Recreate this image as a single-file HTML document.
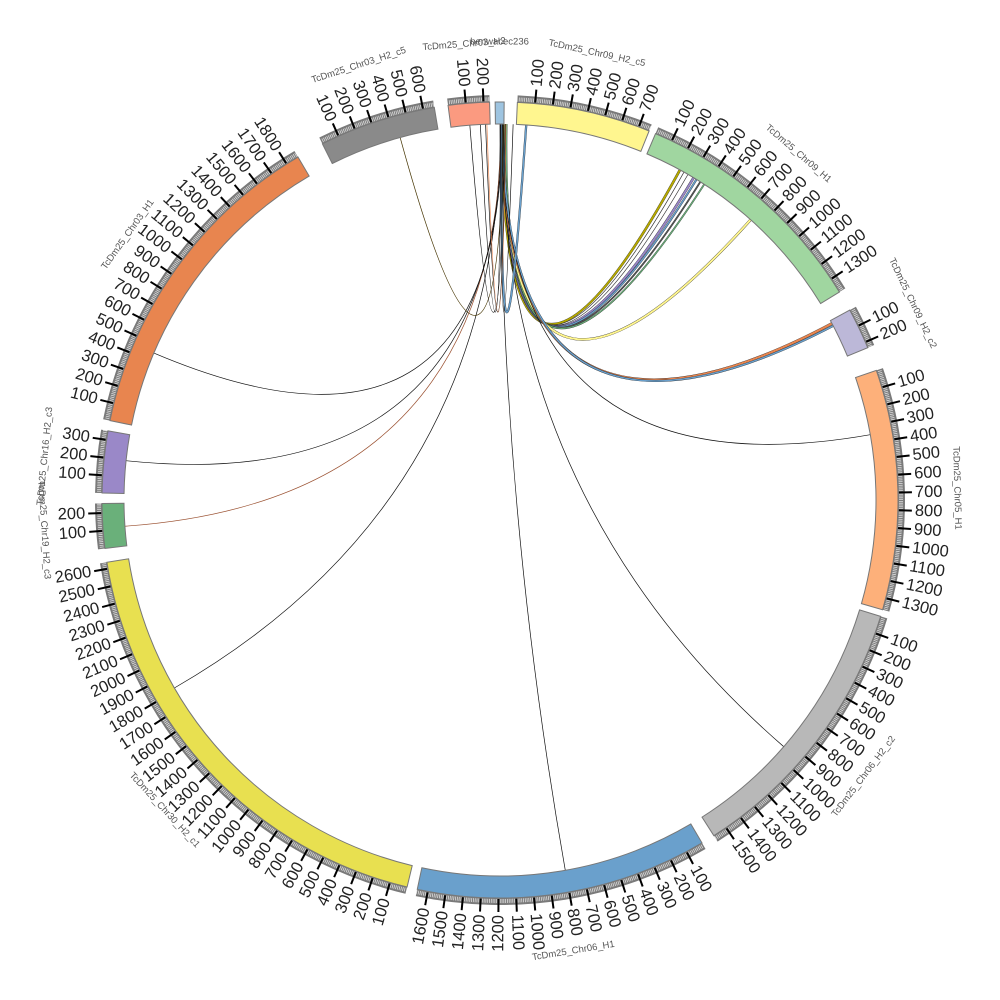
<!DOCTYPE html>
<html><head><meta charset="utf-8"><style>
html,body{margin:0;padding:0;background:#fff;}
svg{display:block;}
text{font-family:"Liberation Sans",sans-serif;}
</style></head><body>
<svg id="s" width="1000" height="1000" viewBox="0 0 1000 1000" xmlns="http://www.w3.org/2000/svg">
<rect width="1000" height="1000" fill="#fff"/>
<g id="links"></g><g id="ideo"></g><g id="ticks"></g><g id="labs"></g>
</svg>
<script>
var NS="http://www.w3.org/2000/svg",CX=500,CY=500,RO=398,RI=376,K=0.0256;
function P(r,t){var a=t*Math.PI/180;return [CX+r*Math.sin(a),CY-r*Math.cos(a)];}
function el(p,tag,at,txt){var e=document.createElementNS(NS,tag);for(var k in at)e.setAttribute(k,at[k]);if(txt!=null)e.textContent=txt;document.getElementById(p).appendChild(e);return e;}
function band(r1,r2,s,e){var a=P(r2,s),b=P(r2,e),c=P(r1,e),d=P(r1,s),lg=(e-s)>180?1:0;
return "M"+a+"A"+r2+","+r2+" 0 "+lg+" 1 "+b+"L"+c+"A"+r1+","+r1+" 0 "+lg+" 0 "+d+"Z";}
var segs=[
[2.5,22,"#fff68f","TcDm25_Chr09_H2_c5"],
[23,58.5,"#a0d6a0","TcDm25_Chr09_H1"],
[61.5,67.5,"#bcb8d8","TcDm25_Chr09_H2_c2"],
[71,106,"#fdb07a","TcDm25_Chr05_H1"],
[107,147.5,"#b8b8b8","TcDm25_Chr06_H2_c2"],
[149.5,192,"#6aa0cc","TcDm25_Chr06_H1"],
[193.5,261,"#e8e050","TcDm25_Chr30_H2_c1"],
[263,269.5,"#6ab07a","TcDm25_Chr19_H2_c3"],
[271,280,"#9a88c8","TcDm25_Chr16_H2_c3"],
[281.5,329.5,"#e8854f","TcDm25_Chr03_H1"],
[333.5,350.5,"#8a8a8a","TcDm25_Chr03_H2_c5"],
[352.5,358.5,"#fb9a80","TcDm25_Chr03_H2"],
[359.3,360.6,"#9ec4e0","benwacec236"]];
var O=376;
function link(t1,t2,col,w){var a=P(O,t1),b=P(O,t2);var d="M"+a+"Q"+CX+","+CY+" "+b;
if(w>1)el("links","path",{d:d,fill:"none",stroke:"#222","stroke-width":w+0.6});
el("links","path",{d:d,fill:"none",stroke:col,"stroke-width":w});}
var L=[
[0.4,28.6,"#b5a800",2],[0.5,29.3,"#333",0.7],[0.6,30,"#333",0.7],[0.7,31,"#9a88c8",2],[0.8,31.5,"#6aa0cc",1.5],[0.9,32.2,"#555",1.2],[1.0,32.9,"#6ab07a",1.2],
[0.6,41.8,"#fff68f",2],
[0.3,62,"#e8854f",2.2],[0.5,62.4,"#6aa0cc",1.5],
[0.2,80,"#111",0.7],[0.3,131,"#111",0.7],[0.0,170,"#111",0.7],
[0.1,240,"#111",0.7],[0.2,266,"#9a5030",0.7],[0.3,276,"#111",0.7],[0.4,293,"#111",0.7],
[0.5,344.6,"#443300",0.7],[0.6,355.4,"#111",0.7],[0.2,4,"#6aa0cc",1.6],
[0.1,357,"#111",0.7],[0.9,358,"#e8854f",0.7],[0.8,357.8,"#111",0.7],[0.3,2,"#111",0.7]];
L.forEach(function(l){link(l[0],l[1],l[2],l[3]);});
segs.forEach(function(s){
 el("ideo","path",{d:band(RI,RO,s[0],s[1]),fill:s[2],stroke:"#777","stroke-width":1});
 if(s[1]-s[0]<3){return;}
 el("ticks","path",{d:band(RO,405,s[0],s[1]),fill:"#7a7a7a"});
 var len=(s[1]-s[0])/K;
 for(var u=10;u<len;u+=10){var t=s[0]+u*K;if(u%100==0)continue;var a=P(399,t),b=P(403,t);
  el("ticks","line",{x1:a[0],y1:a[1],x2:b[0],y2:b[1],stroke:"#ddd","stroke-width":0.8});}
 for(var u=100;u<len;u+=100){var t=s[0]+u*K;var a=P(399,t),b=P(412,t);
  el("ticks","line",{x1:a[0],y1:a[1],x2:b[0],y2:b[1],stroke:"#000","stroke-width":2});
  var q=P(415,t);var tt=t%360;var rot,anc;
  if(tt<180){rot=tt-90;anc="start";}else{rot=tt+90;anc="end";}
  el("ticks","text",{x:q[0],y:q[1],"font-size":16.5,fill:"#222","text-anchor":anc,"dominant-baseline":"central",transform:"rotate("+rot+" "+q[0]+" "+q[1]+")"},""+u);}
});
segs.forEach(function(s){
 var m=(s[0]+s[1])/2;var r=(s[1]-s[0])<3?458:457;var q=P(r,m);var rot=(m>90&&m<270)?m-180:m;
 el("labs","text",{x:q[0],y:q[1],"font-size":9.5,fill:"#555","text-anchor":"middle","dominant-baseline":"central",transform:"rotate("+rot+" "+q[0]+" "+q[1]+")"},s[3]);
});
</script>
</body></html>
